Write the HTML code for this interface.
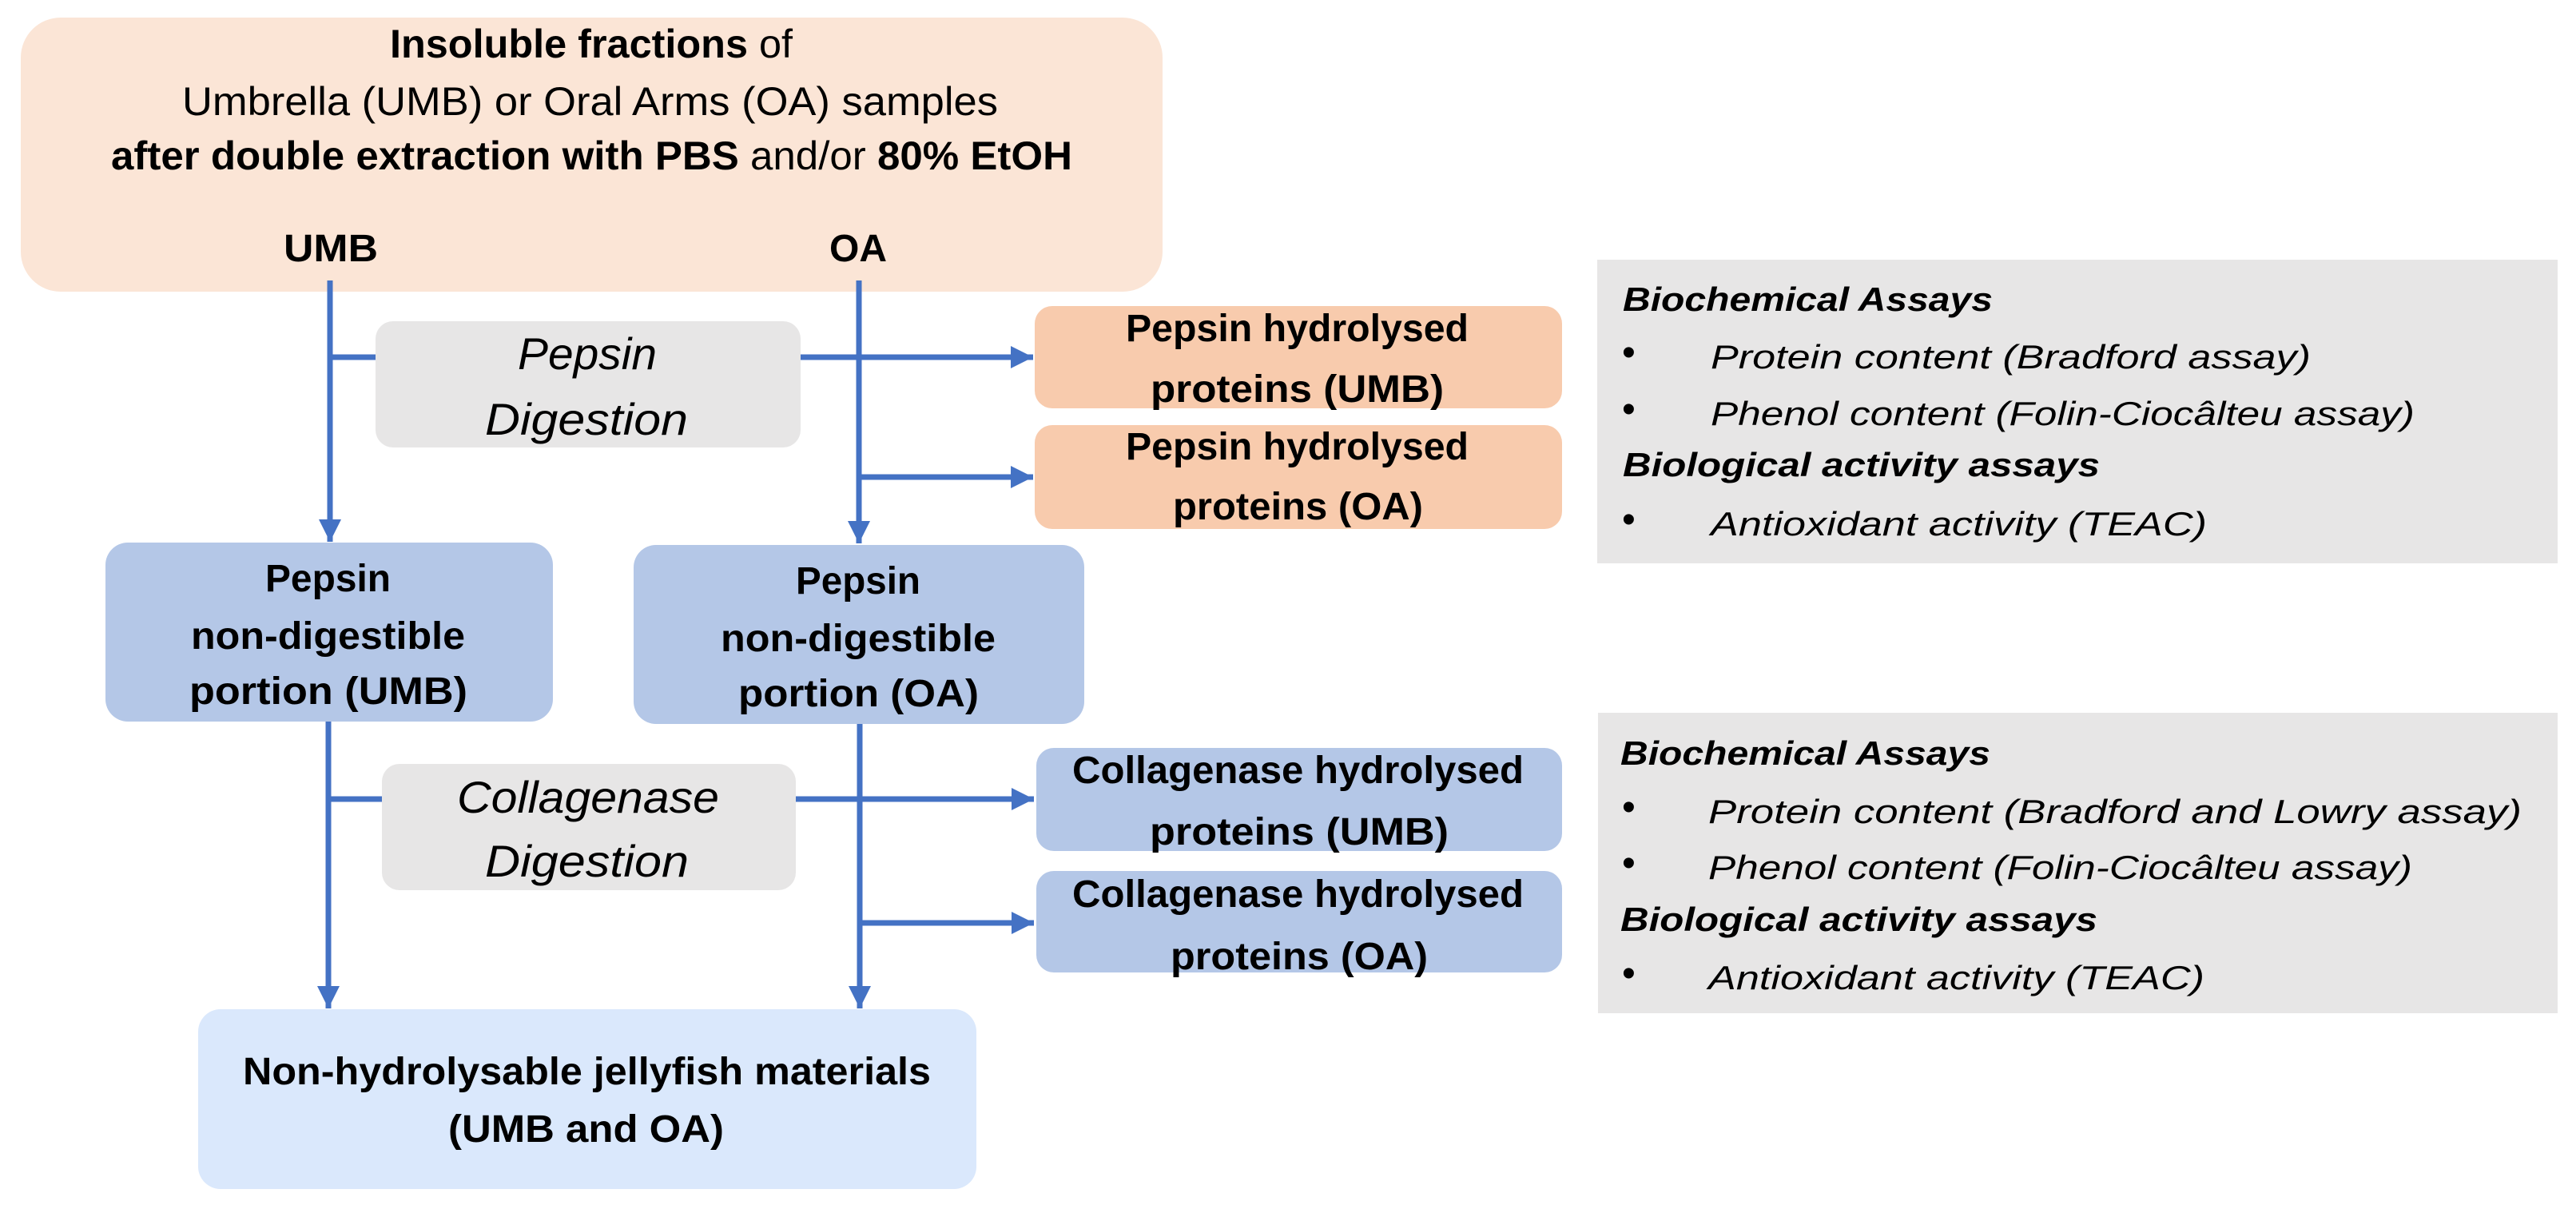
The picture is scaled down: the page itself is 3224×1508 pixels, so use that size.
<!DOCTYPE html>
<html><head><meta charset="utf-8"><style>
html,body{margin:0;padding:0;background:#fff;}
svg{display:block;}
text{font-family:"Liberation Sans",sans-serif;fill:#000;}
.b{font-weight:bold;font-size:48px;}
.t{font-size:50px;}
.i{font-style:italic;font-size:56px;}
.g{font-style:italic;font-size:42px;}
.gb{font-style:italic;font-weight:bold;font-size:42px;}
.d{font-size:48px;}
</style></head><body>
<svg width="3224" height="1508" viewBox="0 0 3224 1508" xmlns="http://www.w3.org/2000/svg">
<defs>
<marker id="ah" markerUnits="userSpaceOnUse" markerWidth="30" markerHeight="30" refX="28" refY="15" orient="auto">
<path d="M0,1 L28,15 L0,29 Z" fill="#4472c4"/>
</marker>
</defs>
<rect x="26" y="22" width="1429" height="343" rx="50" fill="#fbe5d6"/>
<rect x="470" y="402" width="532" height="158" rx="22" fill="#e7e6e6"/>
<rect x="1295" y="383" width="660" height="128" rx="22" fill="#f8cbad"/>
<rect x="1295" y="532" width="660" height="130" rx="22" fill="#f8cbad"/>
<rect x="1999" y="325" width="1202" height="380" fill="#e7e6e6"/>
<rect x="132" y="679" width="560" height="224" rx="28" fill="#b4c7e7"/>
<rect x="793" y="682" width="564" height="224" rx="28" fill="#b4c7e7"/>
<rect x="478" y="956" width="518" height="158" rx="22" fill="#e7e6e6"/>
<rect x="1297" y="936" width="658" height="129" rx="22" fill="#b4c7e7"/>
<rect x="1297" y="1090" width="658" height="127" rx="22" fill="#b4c7e7"/>
<rect x="2000" y="892" width="1201" height="376" fill="#e7e6e6"/>
<rect x="248" y="1263" width="974" height="225" rx="28" fill="#dae8fc"/>
<g stroke="#4472c4" stroke-width="7" fill="none">
<line x1="413" y1="351" x2="413" y2="678" marker-end="url(#ah)"/>
<line x1="1075" y1="351" x2="1075" y2="680" marker-end="url(#ah)"/>
<line x1="410" y1="447" x2="470" y2="447"/>
<line x1="1002" y1="447" x2="1293" y2="447" marker-end="url(#ah)"/>
<line x1="1075" y1="597" x2="1293" y2="597" marker-end="url(#ah)"/>
<line x1="411" y1="903" x2="411" y2="1262" marker-end="url(#ah)"/>
<line x1="1076" y1="906" x2="1076" y2="1262" marker-end="url(#ah)"/>
<line x1="408" y1="1000" x2="478" y2="1000"/>
<line x1="996" y1="1000" x2="1294" y2="1000" marker-end="url(#ah)"/>
<line x1="1076" y1="1155" x2="1294" y2="1155" marker-end="url(#ah)"/>
</g>
<text x="488" y="72" class="t" textLength="504" lengthAdjust="spacingAndGlyphs"><tspan font-weight="bold">Insoluble fractions</tspan> of</text>
<text x="228" y="144" class="t" textLength="1021" lengthAdjust="spacingAndGlyphs">Umbrella (UMB) or Oral Arms (OA) samples</text>
<text x="139" y="212" class="t" textLength="1203" lengthAdjust="spacingAndGlyphs"><tspan font-weight="bold">after double extraction with PBS</tspan> and/or <tspan font-weight="bold">80% EtOH</tspan></text>
<text x="355" y="327" class="b" textLength="118" lengthAdjust="spacingAndGlyphs">UMB</text>
<text x="1038" y="327" class="b" textLength="72" lengthAdjust="spacingAndGlyphs">OA</text>
<text x="648" y="462" class="i" textLength="174" lengthAdjust="spacingAndGlyphs">Pepsin</text>
<text x="607" y="544" class="i" textLength="254" lengthAdjust="spacingAndGlyphs">Digestion</text>
<text x="572" y="1017" class="i" textLength="328" lengthAdjust="spacingAndGlyphs">Collagenase</text>
<text x="607" y="1097" class="i" textLength="255" lengthAdjust="spacingAndGlyphs">Digestion</text>
<text x="1409" y="427" class="b" textLength="429" lengthAdjust="spacingAndGlyphs">Pepsin hydrolysed</text>
<text x="1440" y="503" class="b" textLength="367" lengthAdjust="spacingAndGlyphs">proteins (UMB)</text>
<text x="1409" y="575" class="b" textLength="429" lengthAdjust="spacingAndGlyphs">Pepsin hydrolysed</text>
<text x="1468" y="650" class="b" textLength="313" lengthAdjust="spacingAndGlyphs">proteins (OA)</text>
<text x="1342" y="980" class="b" textLength="565" lengthAdjust="spacingAndGlyphs">Collagenase hydrolysed</text>
<text x="1439" y="1057" class="b" textLength="374" lengthAdjust="spacingAndGlyphs">proteins (UMB)</text>
<text x="1342" y="1135" class="b" textLength="565" lengthAdjust="spacingAndGlyphs">Collagenase hydrolysed</text>
<text x="1465" y="1213" class="b" textLength="322" lengthAdjust="spacingAndGlyphs">proteins (OA)</text>
<text x="332" y="740" class="b" textLength="157" lengthAdjust="spacingAndGlyphs">Pepsin</text>
<text x="239" y="812" class="b" textLength="343" lengthAdjust="spacingAndGlyphs">non-digestible</text>
<text x="237" y="881" class="b" textLength="348" lengthAdjust="spacingAndGlyphs">portion (UMB)</text>
<text x="996" y="743" class="b" textLength="156" lengthAdjust="spacingAndGlyphs">Pepsin</text>
<text x="902" y="815" class="b" textLength="344" lengthAdjust="spacingAndGlyphs">non-digestible</text>
<text x="924" y="884" class="b" textLength="301" lengthAdjust="spacingAndGlyphs">portion (OA)</text>
<text x="304" y="1357" class="b" textLength="861" lengthAdjust="spacingAndGlyphs">Non-hydrolysable jellyfish materials</text>
<text x="561" y="1429" class="b" textLength="345" lengthAdjust="spacingAndGlyphs">(UMB and OA)</text>
<text x="2031" y="389" class="gb" textLength="463" lengthAdjust="spacingAndGlyphs">Biochemical Assays</text>
<text x="2030" y="457" class="d">•</text>
<text x="2141" y="461" class="g" textLength="751" lengthAdjust="spacingAndGlyphs">Protein content (Bradford assay)</text>
<text x="2030" y="528" class="d">•</text>
<text x="2141" y="532" class="g" textLength="881" lengthAdjust="spacingAndGlyphs">Phenol content (Folin-Ciocâlteu assay)</text>
<text x="2031" y="596" class="gb" textLength="597" lengthAdjust="spacingAndGlyphs">Biological activity assays</text>
<text x="2030" y="666" class="d">•</text>
<text x="2141" y="670" class="g" textLength="621" lengthAdjust="spacingAndGlyphs">Antioxidant activity (TEAC)</text>
<text x="2028" y="957" class="gb" textLength="463" lengthAdjust="spacingAndGlyphs">Biochemical Assays</text>
<text x="2030" y="1026" class="d">•</text>
<text x="2138" y="1030" class="g" textLength="1018" lengthAdjust="spacingAndGlyphs">Protein content (Bradford and Lowry assay)</text>
<text x="2030" y="1096" class="d">•</text>
<text x="2138" y="1100" class="g" textLength="881" lengthAdjust="spacingAndGlyphs">Phenol content (Folin-Ciocâlteu assay)</text>
<text x="2028" y="1165" class="gb" textLength="597" lengthAdjust="spacingAndGlyphs">Biological activity assays</text>
<text x="2030" y="1234" class="d">•</text>
<text x="2138" y="1238" class="g" textLength="621" lengthAdjust="spacingAndGlyphs">Antioxidant activity (TEAC)</text>
</svg>
</body></html>
